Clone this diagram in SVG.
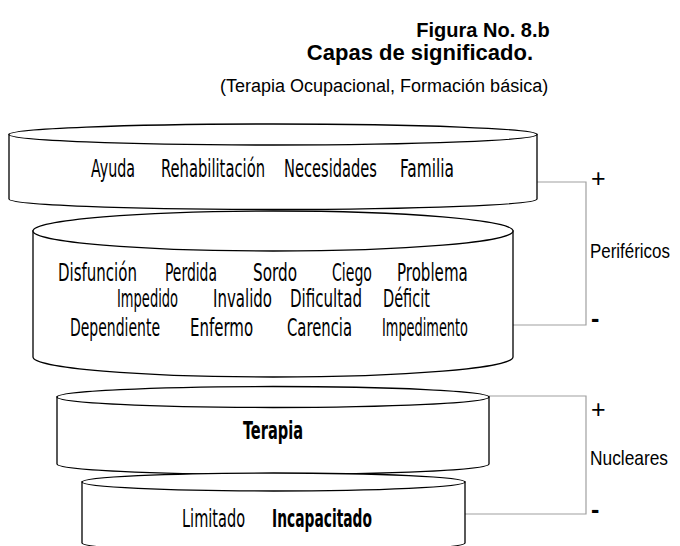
<svg xmlns="http://www.w3.org/2000/svg" width="680" height="546" viewBox="0 0 680 546">
<style>
.cyl{fill:#fff;stroke:#000;stroke-width:1.3}
.w{font-family:"DejaVu Sans Condensed","Liberation Sans",sans-serif;font-size:25px;fill:#000}
.b{font-weight:bold}
.t{font-family:"Liberation Sans",Arial,sans-serif;fill:#000}
.lbl{font-family:"Liberation Sans",Arial,sans-serif;font-size:20px;fill:#000}
.sign{font-family:"Liberation Sans",Arial,sans-serif;font-size:25px;fill:#000}
.br{fill:none;stroke:#a0a0a0;stroke-width:1.2}
</style>
<rect width="680" height="546" fill="#fff"/>
<g id="title">
<text class="t" x="483" y="37" font-size="20" font-weight="bold" text-anchor="middle">Figura No. 8.b</text>
<text class="t" x="533" y="60" font-size="22" font-weight="bold" text-anchor="end">Capas de significado.</text>
<text class="t" x="220" y="92" font-size="18">(Terapia Ocupacional, Formación básica)</text>
</g>
<g id="connectors">
<path class="br" d="M537 182 H586 V325 H513"/>
<path class="br" d="M489 396 H586 V514 H465"/>
</g>
<g id="layer1">
<path class="cyl" d="M9 134.5 V199 A264 10.5 0 0 0 537 199 V134.5 Z"/>
<ellipse class="cyl" cx="273" cy="134.5" rx="264" ry="10.5"/>
<text class="w" transform="matrix(0.65 0 0 1 91 177)" textLength="67.7" lengthAdjust="spacingAndGlyphs">Ayuda</text>
<text class="w" transform="matrix(0.65 0 0 1 161 177)" textLength="160" lengthAdjust="spacingAndGlyphs">Rehabilitación</text>
<text class="w" transform="matrix(0.65 0 0 1 284 177)" textLength="143" lengthAdjust="spacingAndGlyphs">Necesidades</text>
<text class="w" transform="matrix(0.65 0 0 1 400 177)" textLength="83" lengthAdjust="spacingAndGlyphs">Familia</text>
</g>
<g id="layer2">
<path class="cyl" d="M33 231 V357 A240 20 0 0 0 513 357 V231 Z"/>
<ellipse class="cyl" cx="273" cy="231" rx="240" ry="20"/>
<text class="w" transform="matrix(0.65 0 0 1 58 281)" textLength="121.5" lengthAdjust="spacingAndGlyphs">Disfunción</text>
<text class="w" transform="matrix(0.65 0 0 1 165 281)" textLength="80" lengthAdjust="spacingAndGlyphs">Perdida</text>
<text class="w" transform="matrix(0.65 0 0 1 253 281)" textLength="67.7" lengthAdjust="spacingAndGlyphs">Sordo</text>
<text class="w" transform="matrix(0.65 0 0 1 332 281)" textLength="61.5" lengthAdjust="spacingAndGlyphs">Ciego</text>
<text class="w" transform="matrix(0.65 0 0 1 397 281)" textLength="109" lengthAdjust="spacingAndGlyphs">Problema</text>
<text class="w" transform="matrix(0.65 0 0 1 117 307)" textLength="94" lengthAdjust="spacingAndGlyphs">Impedido</text>
<text class="w" transform="matrix(0.65 0 0 1 213 307)" textLength="90.8" lengthAdjust="spacingAndGlyphs">Invalido</text>
<text class="w" transform="matrix(0.65 0 0 1 290 307)" textLength="110.8" lengthAdjust="spacingAndGlyphs">Dificultad</text>
<text class="w" transform="matrix(0.65 0 0 1 383 307)" textLength="72.3" lengthAdjust="spacingAndGlyphs">Déficit</text>
<text class="w" transform="matrix(0.65 0 0 1 70 336)" textLength="138.5" lengthAdjust="spacingAndGlyphs">Dependiente</text>
<text class="w" transform="matrix(0.65 0 0 1 190 336)" textLength="97" lengthAdjust="spacingAndGlyphs">Enfermo</text>
<text class="w" transform="matrix(0.65 0 0 1 287 336)" textLength="100" lengthAdjust="spacingAndGlyphs">Carencia</text>
<text class="w" transform="matrix(0.65 0 0 1 382 336)" textLength="132.3" lengthAdjust="spacingAndGlyphs">Impedimento</text>
</g>
<g id="layer3">
<path class="cyl" d="M57 397 V464 A216 10.5 0 0 0 489 464 V397 Z"/>
<ellipse class="cyl" cx="273" cy="397" rx="216" ry="10.5"/>
<text class="w b" transform="matrix(0.65 0 0 1 243 439)" textLength="92.3" lengthAdjust="spacingAndGlyphs">Terapia</text>
</g>
<g id="layer4">
<path class="cyl" d="M82 482 V543 A191.5 9 0 0 0 465 543 V482 Z"/>
<ellipse class="cyl" cx="273.5" cy="482" rx="191.5" ry="9"/>
<text class="w" transform="matrix(0.65 0 0 1 182 527)" textLength="97" lengthAdjust="spacingAndGlyphs">Limitado</text>
<text class="w b" transform="matrix(0.65 0 0 1 272 527)" textLength="153.8" lengthAdjust="spacingAndGlyphs">Incapacitado</text>
</g>
<g id="labels">
<text class="sign" x="591" y="187">+</text>
<text class="sign b" x="591" y="327">-</text>
<text class="lbl" transform="matrix(0.85 0 0 1 590 258)" textLength="94" lengthAdjust="spacingAndGlyphs">Periféricos</text>
<text class="sign" x="591" y="418">+</text>
<text class="sign b" x="591" y="518">-</text>
<text class="lbl" transform="matrix(0.867 0 0 1 590 465)" textLength="90" lengthAdjust="spacingAndGlyphs">Nucleares</text>
</g>
</svg>
